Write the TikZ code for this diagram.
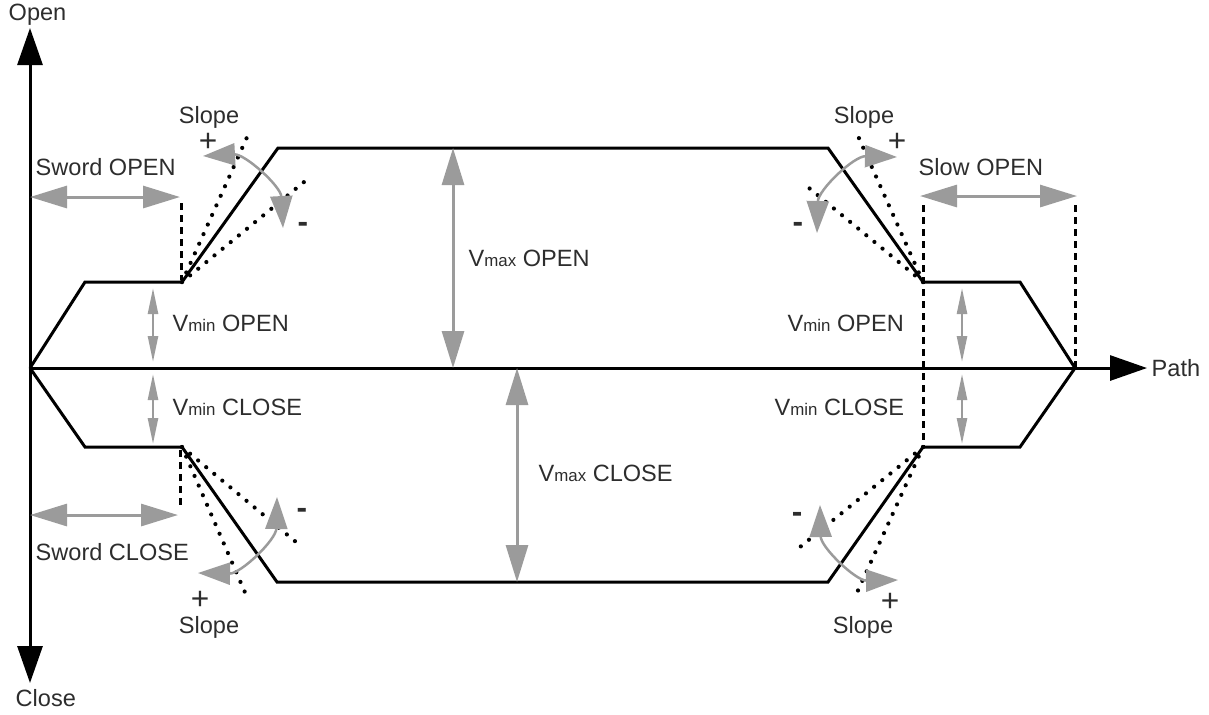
\documentclass[tikz,border=0pt]{standalone}
\usepackage{fontspec}
\setmainfont{Liberation Sans}
\usetikzlibrary{arrows.meta}

\definecolor{arrowgray}{RGB}{155,155,155}
\definecolor{textgray}{RGB}{45,45,45}
\newcommand{\lowidx}[1]{{\fontsize{4.8}{5}\selectfont #1}}

\begin{document}
\begin{tikzpicture}[x=0.1mm, y=-0.1mm,
    lbl/.style={font=\fontsize{6.7}{8}\selectfont, text=textgray, inner sep=0pt},
    plussign/.style={font=\fontsize{9}{10}\selectfont, text=textgray, inner sep=0pt},
    minussign/.style={font=\fontsize{9}{10}\selectfont\bfseries, text=textgray, inner sep=0pt},
    axisline/.style={line width=0.3mm, -{Triangle[length=3.7mm,width=2.5mm]}},
    profile/.style={line width=0.3mm, line join=miter},
    bigarrow/.style={arrowgray, line width=0.3mm, {Triangle[length=3.7mm,width=2.2mm]}-{Triangle[length=3.7mm,width=2.2mm]}},
    minarrow/.style={arrowgray, line width=0.25mm, {Triangle[length=2.6mm,width=1mm]}-{Triangle[length=2.6mm,width=1mm]}},
    slopearrow/.style={arrowgray, line width=0.25mm, {Triangle[length=3.2mm,width=2.2mm]}-{Triangle[length=3.2mm,width=2.2mm]}},
    dashline/.style={line width=0.3mm, dash pattern=on 0.7mm off 0.5mm},
    dotline/.style={line width=0.42mm, line cap=round, dash pattern=on 0pt off 1.05mm}]

    \useasboundingbox (0,0) rectangle (1209,714);

    % Axes
    \coordinate (O) at (30,368);
    \coordinate (ytop) at (30,28);
    \coordinate (ybot) at (30,683);
    \coordinate (xend) at (1147,368);
    \draw[axisline] (O) -- (ytop);
    \draw[axisline] (O) -- (ybot);
    \draw[axisline] (O) -- (xend);
    \node[lbl, anchor=west] (openlbl) at (8,15) {Open};
    \node[lbl, anchor=west] (closelbl) at (15,698) {Close};
    \node[lbl, anchor=west] (pathlbl) at (1151,368) {Path};

    % Corners of the two profiles
    \coordinate (oL) at (182,282);
    \coordinate (oR) at (923,282);
    \coordinate (cL) at (182,447);
    \coordinate (cR) at (923,447);
    \coordinate (pend) at (1075,368);

    % Open profile
    \draw[profile] (O) -- (85,282) -- (oL) -- (278,148) -- (828,148) -- (oR) -- (1020,282) -- (pend);
    % Close profile
    \draw[profile] (O) -- (85,447) -- (cL) -- (277,582) -- (828,582) -- (cR) -- (1020,447) -- (pend);

    % Vmax arrows
    \draw[bigarrow] (453,148) -- (453,368);
    \draw[bigarrow] (517,368) -- (517,582);
    \node[lbl, anchor=west] (vmaxopen) at (468,258) {V\lowidx{max} OPEN};
    \node[lbl, anchor=west] (vmaxclose) at (538,473) {V\lowidx{max} CLOSE};

    % Vmin arrows
    \foreach \x in {153,962} {
        \draw[minarrow] (\x,288) -- (\x,362);
        \draw[minarrow] (\x,374) -- (\x,444);
    }
    \node[lbl, anchor=west] (vminopenL) at (172,323) {V\lowidx{min} OPEN};
    \node[lbl, anchor=west] (vmincloseL) at (172,407) {V\lowidx{min} CLOSE};
    \node[lbl, anchor=west] (vminopenR) at (787,323) {V\lowidx{min} OPEN};
    \node[lbl, anchor=west] (vmincloseR) at (774,407) {V\lowidx{min} CLOSE};

    % Sword and slow distances
    \draw[bigarrow] (30,197) -- (180,197);
    \draw[dashline] (181,203) -- (181,280);
    \node[lbl, anchor=west] (swordopen) at (35,167) {Sword OPEN};
    \draw[bigarrow] (30,515) -- (178,515);
    \draw[dashline] (180,450) -- (180,507);
    \node[lbl, anchor=west] (swordclose) at (35,552) {Sword CLOSE};
    \draw[bigarrow] (920,196) -- (1077,196);
    \draw[dashline] (923,205) -- (cR);
    \draw[dashline] (1075,205) -- (pend);
    \node[lbl, anchor=west] (slowopen) at (918,167) {Slow OPEN};

    % Slope variations
    \draw[dotline] (oL) -- (248,135);
    \draw[dotline] (oL) -- (304,182);
    \draw[slopearrow] (203,156) to[bend left=45] (283,228);
    \node[lbl] (slopeTL) at (209,117) {Slope};
    \node[plussign] (plusTL) at (208,142) {+};
    \node[minussign] (minusTL) at (303,227) {-};

    \draw[dotline] (oR) -- (858,136);
    \draw[dotline] (oR) -- (803,183);
    \draw[slopearrow] (897,157) to[bend right=45] (817,233);
    \node[lbl] (slopeTR) at (864,117) {Slope};
    \node[plussign] (plusTR) at (897,142) {+};
    \node[minussign] (minusTR) at (798,227) {-};

    \draw[dotline] (cL) -- (247,597);
    \draw[dotline] (cL) -- (302,547);
    \draw[slopearrow] (198,573) to[bend right=45] (277,497);
    \node[lbl] (slopeBL) at (209,627) {Slope};
    \node[plussign] (plusBL) at (200,600) {+};
    \node[minussign] (minusBL) at (302,513) {-};

    \draw[dotline] (cR) -- (855,597);
    \draw[dotline] (cR) -- (800,547);
    \draw[slopearrow] (820,505) to[bend right=45] (898,580);
    \node[lbl] (slopeBR) at (863,627) {Slope};
    \node[plussign] (plusBR) at (890,602) {+};
    \node[minussign] (minusBR) at (797,517) {-};
\end{tikzpicture}
\end{document}
